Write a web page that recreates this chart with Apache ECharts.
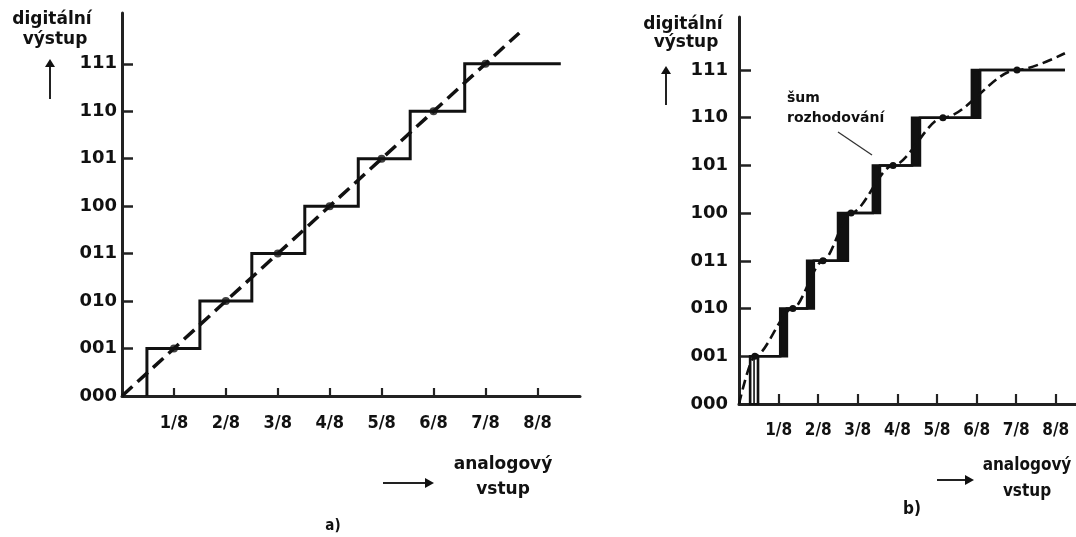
<!DOCTYPE html>
<html>
<head>
<meta charset="utf-8">
<title>Převodní charakteristika A/D převodníku</title>
<script src="https://cdn.jsdelivr.net/npm/echarts@6/dist/echarts.min.js"></script>
<style>
  html, body { margin: 0; padding: 0; background: #fff; }
  #chart { width: 1076px; height: 537px; }
</style>
</head>
<body>
<div id="chart"></div>
<script>
// Output codes on the vertical axis and input fractions on the horizontal axis
const codeLabels = ['000', '001', '010', '011', '100', '101', '110', '111'];
const fracLabels = ['1/8', '2/8', '3/8', '4/8', '5/8', '6/8', '7/8', '8/8'];

// a) ideal converter: input values where the output code steps up
const riseA = [0.48, 1.5, 2.5, 3.52, 4.55, 5.55, 6.6];
const endA = 8.45;
// ideal straight transfer line and its points at the code centres
const lineA = [[0, 0], [7.65, 7.65]];
const centresA = [1, 2, 3, 4, 5, 6, 7];

// b) real converter: each transition smeared by decision noise
const riseEarlyB = [0.28, 1.04, 1.72, 2.5, 3.38, 4.37, 5.88];
const riseLateB = [0.48, 1.21, 1.89, 2.75, 3.56, 4.57, 6.09];
const endB = 8.23;
// nonlinear transfer curve
const curveB = [[0, 0], [0.4, 1], [1.36, 2], [2.12, 3], [2.83, 4], [3.89, 5], [5.15, 6], [7.02, 7], [8.23, 7.35]];

function staircase(rises, end) {
  const pts = [];
  rises.forEach(function (x, k) {
    pts.push([x, k], [x, k + 1]);
  });
  pts.push([end, rises.length]);
  return pts;
}

const bandsB = riseEarlyB.map(function (x, k) { return [x, riseLateB[k], k]; });

const BOLD = "'DejaVu Sans', sans-serif";
const COND = "'DejaVu Sans Condensed', 'DejaVu Sans', sans-serif";
const INK = '#111';

function xAxisCfg(gridIndex, max, tickLen, labelFont, labelSize) {
  return {
    type: 'value', gridIndex: gridIndex, min: 0, max: max,
    axisLine: { show: true, onZero: false, lineStyle: { color: '#222', width: 3 } },
    axisTick: { show: true, inside: true, length: tickLen, customValues: [1, 2, 3, 4, 5, 6, 7, 8],
                lineStyle: { color: '#222', width: 2.2 } },
    axisLabel: { customValues: [1, 2, 3, 4, 5, 6, 7, 8], margin: 18,
                 formatter: function (v) { return fracLabels[Math.round(v) - 1]; },
                 color: INK, fontWeight: 'bold', fontFamily: labelFont, fontSize: labelSize },
    splitLine: { show: false }
  };
}

function yAxisCfg(gridIndex, max, tickLen, margin) {
  return {
    type: 'value', gridIndex: gridIndex, min: 0, max: max,
    axisLine: { show: true, onZero: false, lineStyle: { color: '#222', width: 3 } },
    axisTick: { show: true, inside: true, length: tickLen, customValues: [1, 2, 3, 4, 5, 6, 7],
                lineStyle: { color: '#222', width: 2.5 } },
    axisLabel: { customValues: [0, 1, 2, 3, 4, 5, 6, 7], margin: margin,
                 formatter: function (v) { return codeLabels[Math.round(v)]; },
                 color: INK, fontWeight: 'bold', fontFamily: BOLD, fontSize: 18 },
    splitLine: { show: false }
  };
}

function text(str, x, y, font, align) {
  return { type: 'text', style: { text: str, x: x, y: y, font: font, fill: INK,
           align: align || 'center', verticalAlign: 'middle' } };
}
function upArrow(x, y0, y1) {
  return [
    { type: 'line', shape: { x1: x, y1: y0, x2: x, y2: y1 + 6 }, style: { stroke: '#222', lineWidth: 2 } },
    { type: 'polygon', shape: { points: [[x - 5, y1 + 8], [x + 5, y1 + 8], [x, y1]] }, style: { fill: '#111' } }
  ];
}
function rightArrow(x0, x1, y) {
  return [
    { type: 'line', shape: { x1: x0, y1: y, x2: x1 - 6, y2: y }, style: { stroke: '#222', lineWidth: 2 } },
    { type: 'polygon', shape: { points: [[x1 - 9, y - 5], [x1 - 9, y + 5], [x1, y]] }, style: { fill: '#111' } }
  ];
}

const chart = echarts.init(document.getElementById('chart'), null, { renderer: 'canvas' });

chart.setOption({
  backgroundColor: '#fff',
  animation: false,
  grid: [
    { left: 122, top: 13, width: 458, height: 383, containLabel: false, outerBoundsMode: 'none' },
    { left: 739, top: 17, width: 337, height: 387, containLabel: false, outerBoundsMode: 'none' }
  ],
  xAxis: [
    xAxisCfg(0, 8.82, 8, COND, 18),
    xAxisCfg(1, 8.51, 10, COND, 17)
  ],
  yAxis: [
    yAxisCfg(0, 8.07, 11, 5),
    yAxisCfg(1, 8.11, 12, 11)
  ],
  series: [
    {
      name: 'kvantování a)', type: 'line', xAxisIndex: 0, yAxisIndex: 0,
      data: staircase(riseA, endA), showSymbol: false,
      lineStyle: { color: INK, width: 3, join: 'miter' }, z: 3
    },
    {
      name: 'ideální přímka a)', type: 'line', xAxisIndex: 0, yAxisIndex: 0,
      data: lineA, showSymbol: false,
      lineStyle: { color: INK, width: 3.5, type: [14, 7] }, z: 4
    },
    {
      name: 'středy kódů a)', type: 'scatter', xAxisIndex: 0, yAxisIndex: 0,
      data: centresA.map(function (k) { return [k, k]; }),
      symbol: 'circle', symbolSize: 8, itemStyle: { color: INK }, z: 5
    },
    {
      name: 'šum rozhodování', type: 'custom', xAxisIndex: 1, yAxisIndex: 1,
      data: bandsB, encode: { x: [0, 1], y: 2 },
      renderItem: function (params, api) {
        const k = api.value(2);
        const p1 = api.coord([api.value(0), k + 1]);
        const p2 = api.coord([api.value(1), k]);
        const w = p2[0] - p1[0], h = p2[1] - p1[1];
        if (k === 0) {
          const mid = (p1[0] + p2[0]) / 2;
          return { type: 'group', children: [
            { type: 'rect', shape: { x: p1[0], y: p1[1], width: w, height: h },
              style: { fill: 'none', stroke: INK, lineWidth: 2.2 } },
            { type: 'line', shape: { x1: mid, y1: p1[1], x2: mid, y2: p2[1] },
              style: { stroke: INK, lineWidth: 1.6 } }
          ] };
        }
        return { type: 'rect', shape: { x: p1[0], y: p1[1], width: w, height: h },
                 style: { fill: INK, stroke: INK, lineWidth: 1 } };
      },
      z: 3
    },
    {
      name: 'kvantování b) dolní', type: 'line', xAxisIndex: 1, yAxisIndex: 1,
      data: staircase(riseEarlyB, endB), showSymbol: false,
      lineStyle: { color: INK, width: 2.5, join: 'miter' }, z: 3
    },
    {
      name: 'kvantování b) horní', type: 'line', xAxisIndex: 1, yAxisIndex: 1,
      data: staircase(riseLateB, endB), showSymbol: false,
      lineStyle: { color: INK, width: 2.5, join: 'miter' }, z: 3
    },
    {
      name: 'přenosová křivka b)', type: 'line', xAxisIndex: 1, yAxisIndex: 1,
      data: curveB.map(function (p, i) {
        const inner = i > 0 && i < curveB.length - 1;
        return { value: p, symbol: inner ? 'circle' : 'none' };
      }),
      smooth: 0.3, smoothMonotone: 'x',
      showSymbol: true, symbolSize: 7, itemStyle: { color: INK },
      lineStyle: { color: INK, width: 2.6, type: [10, 5] }, z: 4
    }
  ],
  graphic: [
    text('digitální', 52, 20, 'bold 17px ' + BOLD),
    text('výstup', 55, 40, 'bold 17px ' + BOLD),
    ...upArrow(50, 99, 59),
    text('analogový', 503, 465, 'bold 17px ' + BOLD),
    text('vstup', 503, 490, 'bold 17px ' + BOLD),
    ...rightArrow(383, 434, 483),
    text('a)', 333, 526, 'bold 15px ' + COND),

    text('digitální', 683, 25, 'bold 17px ' + BOLD),
    text('výstup', 686, 43, 'bold 17px ' + BOLD),
    ...upArrow(666, 105, 66),
    text('šum', 787, 98, 'bold 14px ' + BOLD, 'left'),
    text('rozhodování', 787, 118, 'bold 14px ' + BOLD, 'left'),
    { type: 'line', shape: { x1: 838, y1: 132, x2: 872, y2: 155 }, style: { stroke: '#333', lineWidth: 1.3 } },
    text('analogový', 1027, 466, 'bold 17px ' + COND),
    text('vstup', 1027, 492, 'bold 17px ' + COND),
    ...rightArrow(937, 974, 480),
    text('b)', 912, 510, 'bold 17px ' + COND)
  ]
});
</script>
</body>
</html>
